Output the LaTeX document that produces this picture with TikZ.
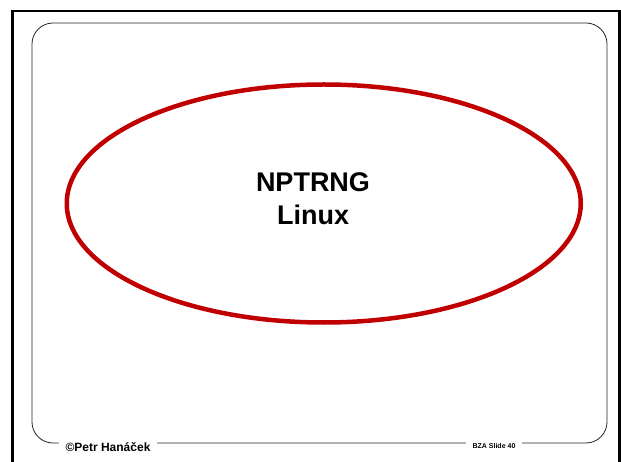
\documentclass[tikz,border=0pt]{standalone}
\usepackage{fontspec}
\setmainfont{Liberation Sans}
\usetikzlibrary{shapes.geometric}
\definecolor{slidered}{RGB}{192,0,0}

\begin{document}
\begin{tikzpicture}[x=1pt,y=-1pt,
  frame/.style={line width=2.5pt,black},
  panel/.style={line width=0.8pt,black!85,rounded corners=21pt},
  ring/.style={ellipse,draw=slidered,line width=4.5pt,minimum width=514pt,minimum height=238pt,inner sep=0pt},
  title/.style={font=\bfseries\fontsize{27}{33}\selectfont,align=center},
  foot/.style={fill=white,inner xsep=7pt,inner ysep=1pt,font=\bfseries\fontsize{#1}{#1}\selectfont}]
\useasboundingbox (0,0) rectangle (621,462);
% slide frame, bottom edge is cut off
\draw[frame] (12.5,480) -- (12.5,11) -- (619.5,11) -- (619.5,480);
\draw[panel] (32,23) rectangle (607,443);
\node[ring] (ring) at (323.75,203.5) {};
\node[title] (topic) at (313,199) {NPTRNG\\Linux};
% footer
\node[foot=12] (author) at (108,447) {©Petr Hanáček};
\node[foot=7] (slide) at (494,446) {BZA Slide 40};
\end{tikzpicture}
\end{document}
